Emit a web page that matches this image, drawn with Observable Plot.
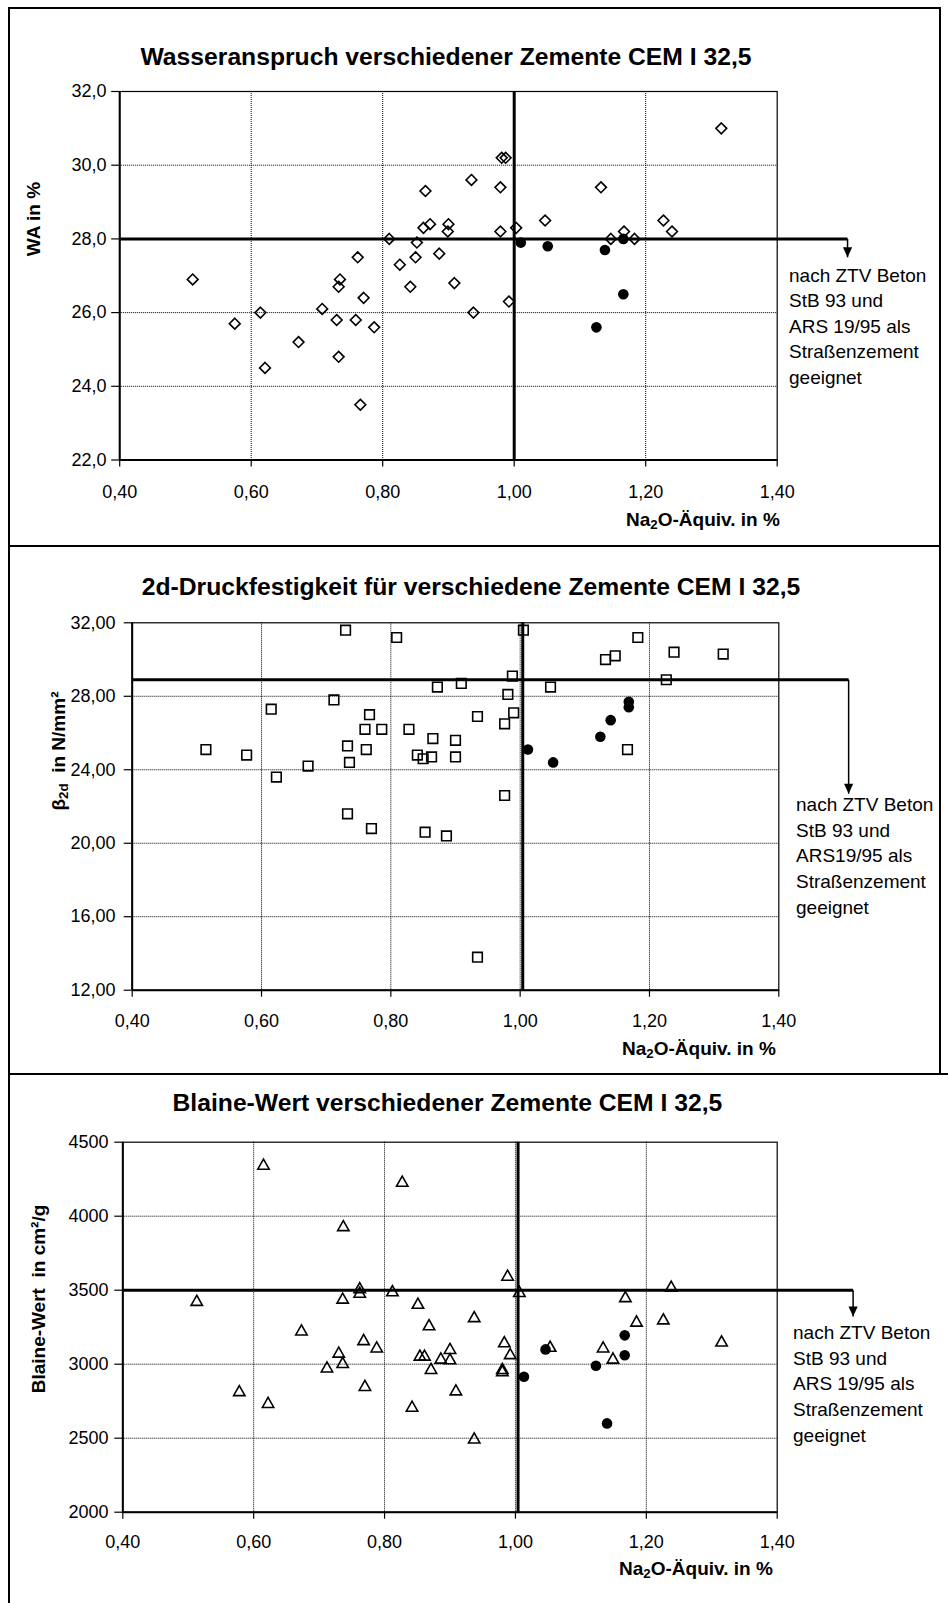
<!DOCTYPE html>
<html><head><meta charset="utf-8">
<script src="https://cdn.jsdelivr.net/npm/d3@7"></script>
<script src="https://cdn.jsdelivr.net/npm/@observablehq/plot@0.6"></script>
<style>
body{margin:0;background:#fff;font-family:"Liberation Sans",Arial,sans-serif;color:#000;}
#page{position:relative;width:948px;height:1603px;overflow:hidden;background:#fff;}
.box{position:absolute;box-sizing:border-box;border:2px solid #000;}
.wrap{position:absolute;left:0;}
.t{position:absolute;white-space:pre;line-height:1;}
.title{font-weight:bold;font-size:24.7px;transform:translate(-50%,-50%);}
.ytitle{font-weight:bold;font-size:19px;transform:translate(-50%,-50%) rotate(-90deg);}
.xtitle{font-weight:bold;font-size:19px;transform:translate(0,-50%);}
.note{font-size:19px;line-height:25.6px;}
sub{font-size:0.7em;vertical-align:-0.3em;line-height:0;}
</style>
</head><body>
<div id="page">
  <div class="box" style="left:8px;top:7px;width:933px;height:540px;"></div>
  <div class="box" style="left:8px;top:545px;width:933px;height:530px;"></div>
  <div class="box" style="left:8px;top:1073px;width:960px;height:560px;border-right:none;border-bottom:none;"></div>
</div>
<script>
// ---------- shared x axis (Na2O-Äquivalent in %) ----------
const xTicks = [0.4, 0.6, 0.8, 1.0, 1.2, 1.4];
const xGridLines = [0.6, 0.8, 1.0, 1.2];

// ---------- Panel 1: Wasseranspruch (WA in %) ----------
const waOpenX = [0.511,0.575,0.614,0.621,0.672,0.708,0.730,0.735,0.733,0.733,0.762,0.759,0.771,0.787,0.766,0.810,0.826,0.842,0.850,0.852,0.862,0.872,0.865,0.886,0.900,0.899,0.909,0.935,0.938,0.979,0.979,0.981,0.987,0.992,1.003,1.047,1.132,1.147,1.167,1.183,1.227,1.240,1.315];
const waOpenY = [26.9,25.7,26.0,24.5,25.2,26.1,25.8,26.9,26.7,24.8,27.5,25.8,26.4,25.6,23.5,28.0,27.3,26.7,27.5,27.9,28.3,28.4,29.3,27.6,28.4,28.2,26.8,29.6,26.0,29.4,28.2,30.2,30.2,26.3,28.3,28.5,29.4,28.0,28.2,28.0,28.5,28.2,31.0];
const waFilledX = [1.010,1.051,1.138,1.166,1.166,1.125];
const waFilledY = [27.9,27.8,27.7,28.0,26.5,25.6];
const waYTicks = [22,24,26,28,30,32];
const waLimit = [28.0];
const waArrow = [[1.507, 28.0], [1.507, 27.5]];
const waVLine = [1.0];

// ---------- Panel 2: 2d-Druckfestigkeit (N/mm²) ----------
const dfOpenX = [0.514,0.577,0.615,0.623,0.672,0.712,0.730,0.733,0.736,0.733,0.760,0.767,0.762,0.786,0.770,0.809,0.828,0.841,0.850,0.863,0.865,0.872,0.853,0.886,0.900,0.900,0.909,0.934,0.934,0.976,0.981,0.988,0.990,0.976,1.005,1.047,1.132,1.147,1.182,1.238,1.314,1.226,1.166];
const dfOpenY = [25.1,24.8,27.3,23.6,24.2,27.8,31.6,25.3,24.4,21.6,26.2,27.0,25.1,26.2,20.8,31.2,26.2,24.8,24.6,24.7,25.7,28.5,20.6,20.4,25.6,24.7,28.7,26.9,13.8,26.5,28.1,29.1,27.1,22.6,31.6,28.5,30.0,30.2,31.2,30.4,30.3,28.9,25.1];
const dfFilledX = [1.012,1.051,1.124,1.140,1.168,1.168];
const dfFilledY = [25.1,24.4,25.8,26.7,27.7,27.4];
const dfYTicks = [12,16,20,24,28,32];
const dfLimit = [28.9];
const dfArrow = [[1.508, 28.9], [1.508, 22.7]];
const dfVLine = [1.004];

// ---------- Panel 3: Blaine-Wert (cm²/g) ----------
const blOpenX = [0.513,0.578,0.615,0.622,0.673,0.712,0.730,0.736,0.736,0.737,0.762,0.762,0.768,0.770,0.788,0.812,0.827,0.851,0.868,0.854,0.861,0.842,0.871,0.886,0.900,0.900,0.909,0.937,0.937,0.980,0.980,0.983,0.988,0.992,1.006,1.053,1.168,1.185,1.134,1.149,1.226,1.238,1.315];
const blOpenY = [3430,2820,4350,2740,3230,2980,3080,3010,3445,3935,3515,3485,3165,2855,3115,3495,4235,3410,3265,3060,3060,2715,2970,3040,3105,3035,2825,3320,2500,2970,2955,3150,3600,3070,3490,3120,3455,3290,3115,3040,3305,3525,3155];
const blFilledX = [1.013,1.046,1.123,1.167,1.167,1.140];
const blFilledY = [2915,3100,2990,3195,3060,2600];
const blYTicks = [2000,2500,3000,3500,4000,4500];
const blLimit = [3500];
const blArrow = [[1.516, 3500], [1.516, 3322]];
const blVLine = [1.004];

// ---------- marker shapes ----------
const diamondSym = {draw(c){c.moveTo(0,-5.4);c.lineTo(5.4,0);c.lineTo(0,5.4);c.lineTo(-5.4,0);c.closePath();}};
const squareSym = {draw(c){c.moveTo(-4.8,-4.8);c.lineTo(4.8,-4.8);c.lineTo(4.8,4.8);c.lineTo(-4.8,4.8);c.closePath();}};
const triangleSym = {draw(c){c.moveTo(0,-5.3);c.lineTo(5.7,4.8);c.lineTo(-5.7,4.8);c.closePath();}};
const arrowHead = {draw(c){c.moveTo(-4.6,-10);c.lineTo(4.6,-10);c.lineTo(0,0);c.closePath();}};

const zip = (xs, ys) => xs.map((x, i) => ({x, y: ys[i]}));
const fmtX = d => d.toFixed(2).replace(".", ",");

function panel(cfg) {
  const x0 = xTicks[0];
  const y0 = cfg.yTicks[0];
  const grid = {stroke: "#000", strokeOpacity: 1, strokeDasharray: "1,1", strokeWidth: 1};
  const limitPath = [[x0, cfg.limit[0]], [cfg.arrow[0][0], cfg.limit[0]]];
  return Plot.plot({
    width: 948,
    height: cfg.height,
    marginTop: cfg.m[0], marginRight: cfg.m[1], marginBottom: cfg.m[2], marginLeft: cfg.m[3],
    style: {fontFamily: "'Liberation Sans', Arial, sans-serif", fontSize: "18px", background: "transparent", overflow: "visible", color: "#000"},
    x: {domain: [xTicks[0], xTicks[xTicks.length - 1]]},
    y: {domain: [cfg.yTicks[0], cfg.yTicks[cfg.yTicks.length - 1]]},
    marks: [
      Plot.gridX(xGridLines, grid),
      Plot.gridY(cfg.yTicks.slice(1, -1), grid),
      Plot.frame({stroke: "#000", strokeWidth: 1.2}),
      Plot.ruleX([x0], {stroke: "#000", strokeWidth: 2}),
      Plot.ruleY([y0], {stroke: "#000", strokeWidth: 2}),
      Plot.dot(cfg.open, {x: "x", y: "y", symbol: cfg.symbol, r: 5, stroke: "#000", fill: "none", strokeWidth: 1.6}),
      Plot.dot(cfg.filled, {x: "x", y: "y", r: 5.3, fill: "#000", stroke: "none"}),
      Plot.ruleX(cfg.vline, {stroke: "#000", strokeWidth: 3}),
      Plot.line(limitPath, {stroke: "#000", strokeWidth: 3, strokeLinecap: "butt"}),
      Plot.line(cfg.arrow, {stroke: "#000", strokeWidth: 1.5, strokeLinecap: "butt"}),
      Plot.dot([cfg.arrow[1]], {symbol: arrowHead, r: 5, fill: "#000", stroke: "none"}),
      Plot.axisX(xTicks, {tickSize: 7, tickPadding: cfg.xPad, tickFormat: fmtX, label: null, strokeWidth: 1.2}),
      Plot.axisY(cfg.yTicks, {tickSize: 8, tickPadding: cfg.yPad, tickFormat: cfg.yFormat, label: null, strokeWidth: 1.2})
    ]
  });
}

const page = document.getElementById("page");
function addPlot(svg, top) {
  const w = document.createElement("div");
  w.className = "wrap";
  w.style.top = top + "px";
  w.appendChild(svg);
  page.appendChild(w);
}
function addText(cls, html, left, top, extra) {
  const d = document.createElement("div");
  d.className = "t " + cls;
  d.style.left = left + "px";
  d.style.top = top + "px";
  if (extra) Object.assign(d.style, extra);
  d.innerHTML = html;
  page.appendChild(d);
}

addPlot(panel({
  height: 546, m: [91, 171.3, 86.5, 119.2],
  yTicks: waYTicks, yFormat: d => d.toFixed(1).replace(".", ","),
  open: zip(waOpenX, waOpenY), filled: zip(waFilledX, waFilledY), symbol: diamondSym,
  limit: waLimit, arrow: waArrow, vline: waVLine, xPad: 18.5, yPad: 5.2
}), 0);

addPlot(panel({
  height: 528, m: [76.3, 169.7, 84.3, 131.7],
  yTicks: dfYTicks, yFormat: d => d.toFixed(2).replace(".", ","),
  open: zip(dfOpenX, dfOpenY), filled: zip(dfFilledX, dfFilledY), symbol: squareSym,
  limit: dfLimit, arrow: dfArrow, vline: dfVLine, xPad: 17.5, yPad: 8.7
}), 546);

addPlot(panel({
  height: 529, m: [67.7, 171.3, 91.3, 122.3],
  yTicks: blYTicks, yFormat: d => String(d),
  open: zip(blOpenX, blOpenY), filled: zip(blFilledX, blFilledY), symbol: triangleSym,
  limit: blLimit, arrow: blArrow, vline: blVLine, xPad: 16.5, yPad: 6.3
}), 1074);

// titles
addText("title", "Wasseranspruch verschiedener Zemente CEM I 32,5", 446, 57);
addText("title", "2d-Druckfestigkeit für verschiedene Zemente CEM I 32,5", 471, 586.6);
addText("title", "Blaine-Wert verschiedener Zemente CEM I 32,5", 447.4, 1103.3);
// y axis titles
addText("ytitle", "WA in %", 33, 218.7);
addText("ytitle", "β<sub>2d</sub>  in N/mm²", 57.7, 751);
addText("ytitle", "Blaine-Wert  in cm²/g", 37.5, 1299);
// x axis titles
addText("xtitle", "Na<sub>2</sub>O-Äquiv. in %", 626, 519);
addText("xtitle", "Na<sub>2</sub>O-Äquiv. in %", 622, 1047.5);
addText("xtitle", "Na<sub>2</sub>O-Äquiv. in %", 619, 1567.5);
// annotations
addText("note", "nach ZTV Beton\nStB 93 und\nARS 19/95 als\nStraßenzement\ngeeignet", 789, 275.5 - 12.8);
addText("note", "nach ZTV Beton\nStB 93 und\nARS19/95 als\nStraßenzement\ngeeignet", 796, 805 - 12.8);
addText("note", "nach ZTV Beton\nStB 93 und\nARS 19/95 als\nStraßenzement\ngeeignet", 793, 1333 - 12.8);
</script>
</body></html>
